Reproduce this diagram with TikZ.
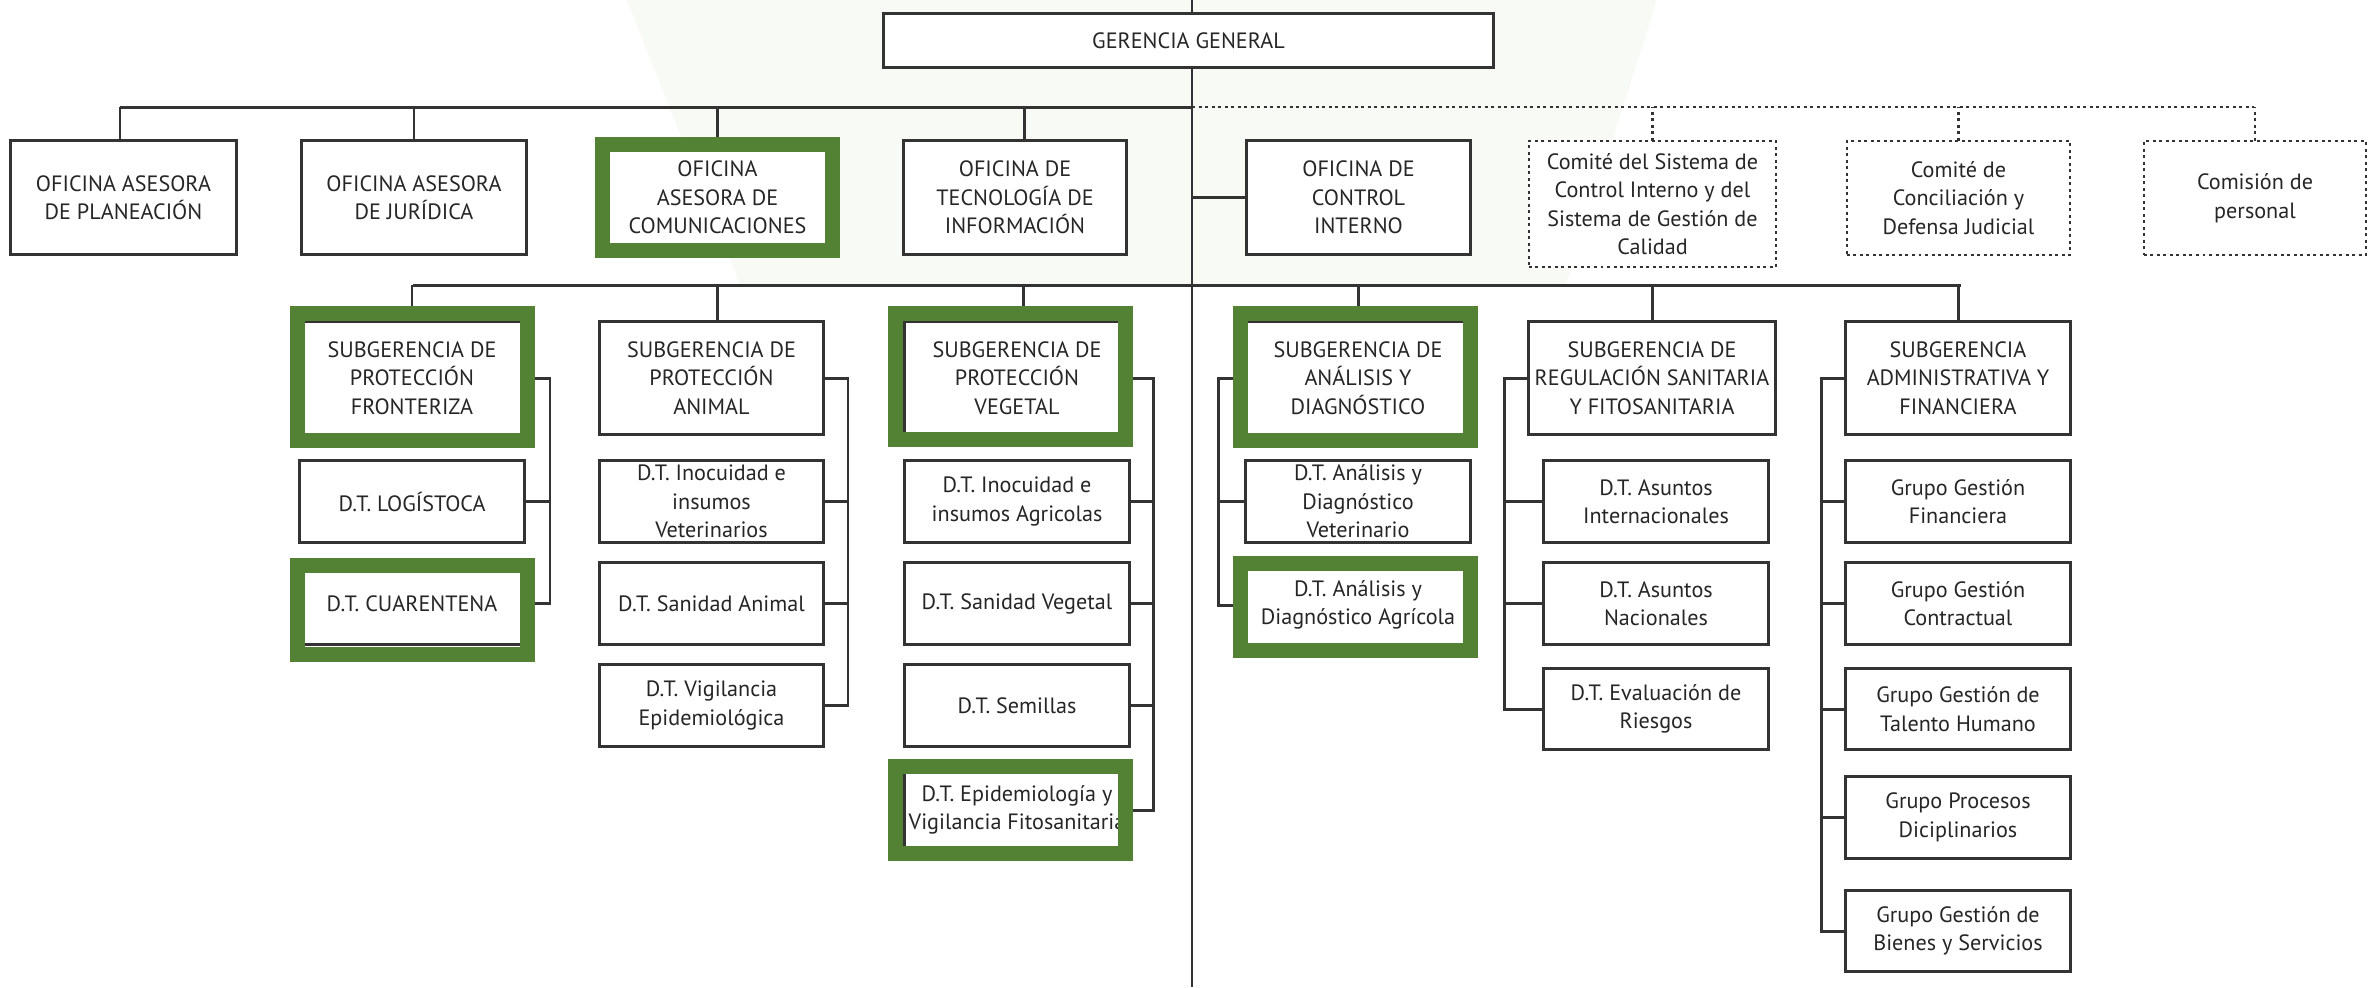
\documentclass[tikz,border=0pt]{standalone}
\usepackage{fontspec}
\setmainfont{PT Sans}
\usetikzlibrary{calc}
\definecolor{vgreen}{HTML}{548235}
\definecolor{wm}{HTML}{F8FAF6}
\definecolor{ink}{HTML}{262626}
\begin{document}
\begin{tikzpicture}[x=0.01cm,y=-0.01cm,
  every node/.style={font=\fontsize{6.3pt}{8.1pt}\selectfont, text=ink},
  box/.style={draw=black!80, line width=0.85pt, fill=white, align=center, inner sep=0pt, outer sep=0pt},
  dbox/.style={box, densely dotted, line width=0.75pt},
  topbox/.style={box, minimum width=2.24cm, minimum height=1.13cm},
  subbox/.style={box, minimum width=2.24cm, minimum height=1.12cm},
  dtbox/.style={box, minimum width=2.24cm, minimum height=0.81cm},
  link/.style={draw=black!80, line width=0.85pt},
  dlink/.style={link, densely dotted, line width=0.75pt},
  gframe/.style={draw=vgreen, line width=4.27pt}
]
\useasboundingbox (0,0) rectangle (2368,987);
\fill[white] (0,0) rectangle (2368,987);
\fill[wm] (627,0) -- (1657,0) -- (1566,285) -- (740,285) -- cycle;

% main spine
\coordinate (mtop) at (1192,0);
\coordinate (mbot) at (1192,987);
\draw[link, line width=0.8pt] (mtop) -- (mbot);

\node[box, minimum width=6.09cm, minimum height=0.53cm] (gg) at (1188.5,40.5) {GERENCIA GENERAL};

% row 1
\node[topbox, minimum width=2.25cm] (pla) at (123.5,197.5) {OFICINA ASESORA\\DE PLANEACIÓN};
\node[topbox] (jur) at (414,197.5) {OFICINA ASESORA\\DE JURÍDICA};
\node[topbox, minimum width=2.30cm] (com) at (717.5,197.5) {OFICINA\\ASESORA DE\\COMUNICACIONES};
\node[topbox, minimum width=2.23cm] (tec) at (1015,197.5) {OFICINA DE\\TECNOLOGÍA DE\\INFORMACIÓN};
\node[topbox, minimum width=2.23cm] (ci) at (1358.5,197.5) {OFICINA DE\\CONTROL\\INTERNO};
\node[dbox, minimum width=2.47cm, minimum height=1.26cm] (cs) at (1652.5,204) {Comité del Sistema de\\Control Interno y del\\Sistema de Gestión de\\Calidad};
\node[dbox, minimum width=2.23cm, minimum height=1.14cm] (cc) at (1958.5,198) {Comité de\\Conciliación y\\Defensa Judicial};
\node[dbox, minimum width=2.22cm, minimum height=1.14cm] (cp) at (2255,198) {Comisión de\\personal};

\coordinate (h1L) at (120,107);
\coordinate (h1M) at (1192,107);
\coordinate (h1R) at (2254,107);
\draw[link] (h1L) -- (h1M);
\draw[dlink] (h1M) -- (h1R);
\draw[link] (h1L) -- (h1L |- pla.north);
\draw[link] (jur.north) -- (jur.north |- h1L);
\draw[link] (com.north) -- (com.north |- h1L);
\draw[link] ([xshift=0.09cm]tec.north) -- ([xshift=0.09cm]tec.north |- h1L);
\draw[dlink] (cs.north) -- (cs.north |- h1L);
\draw[dlink] (cc.north) -- (cc.north |- h1L);
\draw[dlink] (cp.north) -- (cp.north |- h1L);
\draw[link] (ci.west) -- (ci.west -| mtop);

% row 2 and columns
\node[subbox] (s1) at (412,378) {SUBGERENCIA DE\\PROTECCIÓN\\FRONTERIZA};
\node[dtbox] (log) at (412,501.5) {D.T. LOGÍSTOCA};
\node[dtbox] (cua) at (412,603.5) {D.T. CUARENTENA};

\node[subbox] (s2) at (711.5,378) {SUBGERENCIA DE\\PROTECCIÓN\\ANIMAL};
\node[dtbox] (ivet) at (711.5,501.5) {D.T. Inocuidad e\\insumos\\Veterinarios};
\node[dtbox] (sana) at (711.5,603.5) {D.T. Sanidad Animal};
\node[dtbox] (vig) at (711.5,705.5) {D.T. Vigilancia\\Epidemiológica};

\node[subbox] (s3) at (1017,378) {SUBGERENCIA DE\\PROTECCIÓN\\VEGETAL};
\node[dtbox] (iagr) at (1017,501.5) {D.T. Inocuidad e\\insumos Agricolas};
\node[dtbox] (sanv) at (1017,603.5) {D.T. Sanidad Vegetal};
\node[dtbox] (sem) at (1017,705.5) {D.T. Semillas};
\node[dtbox] (epi) at (1017,810) {D.T. Epidemiología y\\Vigilancia Fitosanitaria};

\node[subbox] (s4) at (1358,378) {SUBGERENCIA DE\\ANÁLISIS Y\\DIAGNÓSTICO};
\node[dtbox] (avet) at (1358,501.5) {D.T. Análisis y\\Diagnóstico\\Veterinario};
\node[dtbox] (aagr) at (1358,605) {D.T. Análisis y\\Diagnóstico Agrícola};

\node[subbox, minimum width=2.46cm] (s5) at (1652,378) {SUBGERENCIA DE\\REGULACIÓN SANITARIA\\Y FITOSANITARIA};
\node[dtbox] (ain) at (1656,501.5) {D.T. Asuntos\\Internacionales};
\node[dtbox] (anac) at (1656,603.5) {D.T. Asuntos\\Nacionales};
\node[dtbox] (eva) at (1656,709) {D.T. Evaluación de\\Riesgos};

\node[subbox] (s6) at (1958,378) {SUBGERENCIA\\ADMINISTRATIVA Y\\FINANCIERA};
\node[dtbox] (fin) at (1958,501.5) {Grupo Gestión\\Financiera};
\node[dtbox] (con) at (1958,603.5) {Grupo Gestión\\Contractual};
\node[dtbox] (tal) at (1958,709) {Grupo Gestión de\\Talento Humano};
\node[dtbox] (pro) at (1958,817.5) {Grupo Procesos\\Diciplinarios};
\node[dtbox] (bie) at (1958,931) {Grupo Gestión de\\Bienes y Servicios};

\coordinate (h2L) at (413,285);
\coordinate (h2R) at (1961,285);
\draw[link] (h2L) -- (h2R);
\draw[link] (s1.north) -- (s1.north |- h2L);
\draw[link] ([xshift=0.06cm]s2.north) -- ([xshift=0.06cm]s2.north |- h2L);
\draw[link] ([xshift=0.06cm]s3.north) -- ([xshift=0.06cm]s3.north |- h2L);
\draw[link] (s4.north) -- (s4.north |- h2L);
\draw[link] (s5.north) -- (s5.north |- h2L);
\draw[link] (s6.north) -- (s6.north |- h2L);

% brackets
\coordinate (b1) at (550,0);
\coordinate (b2) at (848,0);
\coordinate (b3) at (1153,0);
\coordinate (b4) at (1218,0);
\coordinate (b5) at (1504,0);
\coordinate (b6) at (1821,0);

\draw[link] (s1.east) -- (s1.east -| b1) -- (cua.east -| b1) -- (cua.east);
\draw[link] (log.east) -- (log.east -| b1);

\draw[link] (s2.east) -- (s2.east -| b2) -- (vig.east -| b2) -- (vig.east);
\draw[link] (ivet.east) -- (ivet.east -| b2);
\draw[link] (sana.east) -- (sana.east -| b2);

\draw[link] (s3.east) -- (s3.east -| b3) -- (epi.east -| b3) -- (epi.east);
\draw[link] (iagr.east) -- (iagr.east -| b3);
\draw[link] (sanv.east) -- (sanv.east -| b3);
\draw[link] (sem.east) -- (sem.east -| b3);

\draw[link] (s4.west) -- (s4.west -| b4) -- (aagr.west -| b4) -- (aagr.west);
\draw[link] (avet.west) -- (avet.west -| b4);

\draw[link] (s5.west) -- (s5.west -| b5) -- (eva.west -| b5) -- (eva.west);
\draw[link] (ain.west) -- (ain.west -| b5);
\draw[link] (anac.west) -- (anac.west -| b5);

\draw[link] (s6.west) -- (s6.west -| b6) -- (bie.west -| b6) -- (bie.west);
\draw[link] (fin.west) -- (fin.west -| b6);
\draw[link] (con.west) -- (con.west -| b6);
\draw[link] (tal.west) -- (tal.west -| b6);
\draw[link] (pro.west) -- (pro.west -| b6);

% green highlight frames
\draw[gframe] (602.5,144.5) rectangle (832.5,250.5);
\draw[gframe] (297.5,313.5) rectangle (527.5,440.5);
\draw[gframe] (297.5,565.5) rectangle (527.5,654.5);
\draw[gframe] (895.5,313.5) rectangle (1125.5,439.5);
\draw[gframe] (895.5,766.5) rectangle (1125.5,853.5);
\draw[gframe] (1240.5,313.5) rectangle (1470.5,440.5);
\draw[gframe] (1240.5,563.5) rectangle (1470.5,650.5);
\end{tikzpicture}
\end{document}
